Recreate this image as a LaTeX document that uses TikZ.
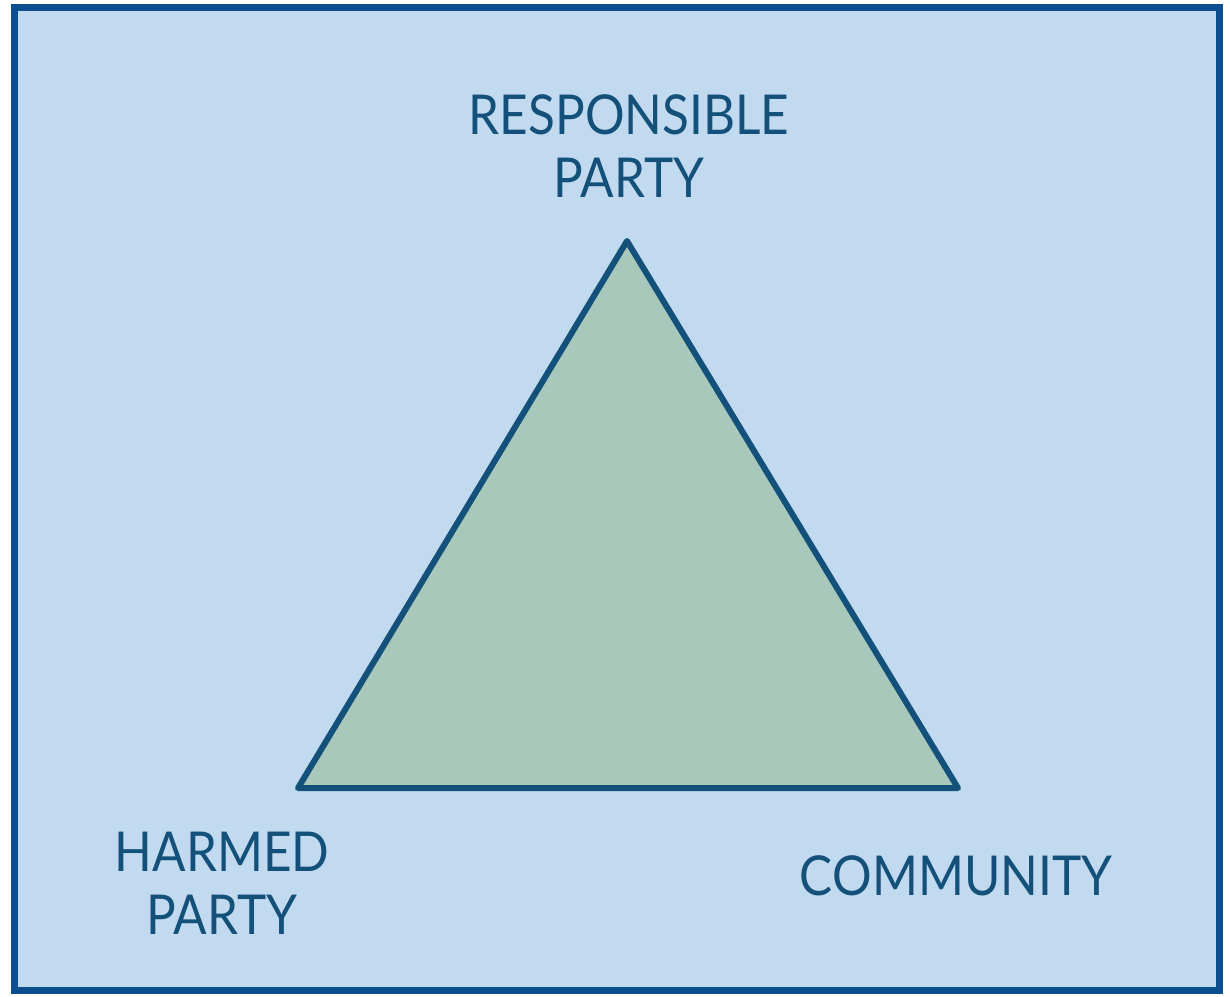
\documentclass[tikz,border=0pt]{standalone}
\usepackage{fontspec}
\setmainfont{Lato}[FakeStretch=0.9]
\usepackage{tikz}

\definecolor{frameblue}{HTML}{0B4F8F}
\definecolor{paleblue}{HTML}{C2DAF0}
\definecolor{darkteal}{HTML}{13507A}
\definecolor{sagegreen}{HTML}{A8C8BC}

\tikzset{
	partylabel/.style={text=darkteal,align=center,font=\fontsize{55}{63}\selectfont},
}

\begin{document}
\begin{tikzpicture}[x=1pt,y=-1pt]
			\useasboundingbox (0,0) rectangle (1230,996);
			\draw[line width=7pt,frameblue,fill=paleblue] (14.5,7.5) rectangle (1219.5,990.5);
			
			\coordinate (apex) at (627,241);
			\coordinate (left) at (298,788);
			\coordinate (right) at (958,788);
			\draw[line width=6pt,darkteal,fill=sagegreen,line join=round] (apex) -- (right) -- (left) -- cycle;
			
			\node[partylabel] (resp) at (629,146) {RESPONSIBLE\\PARTY};
			\node[partylabel] (harmed) at (222,883) {HARMED\\PARTY};
			\node[partylabel] (community) at (956,876) {COMMUNITY};
			\end{tikzpicture}
\end{document}
